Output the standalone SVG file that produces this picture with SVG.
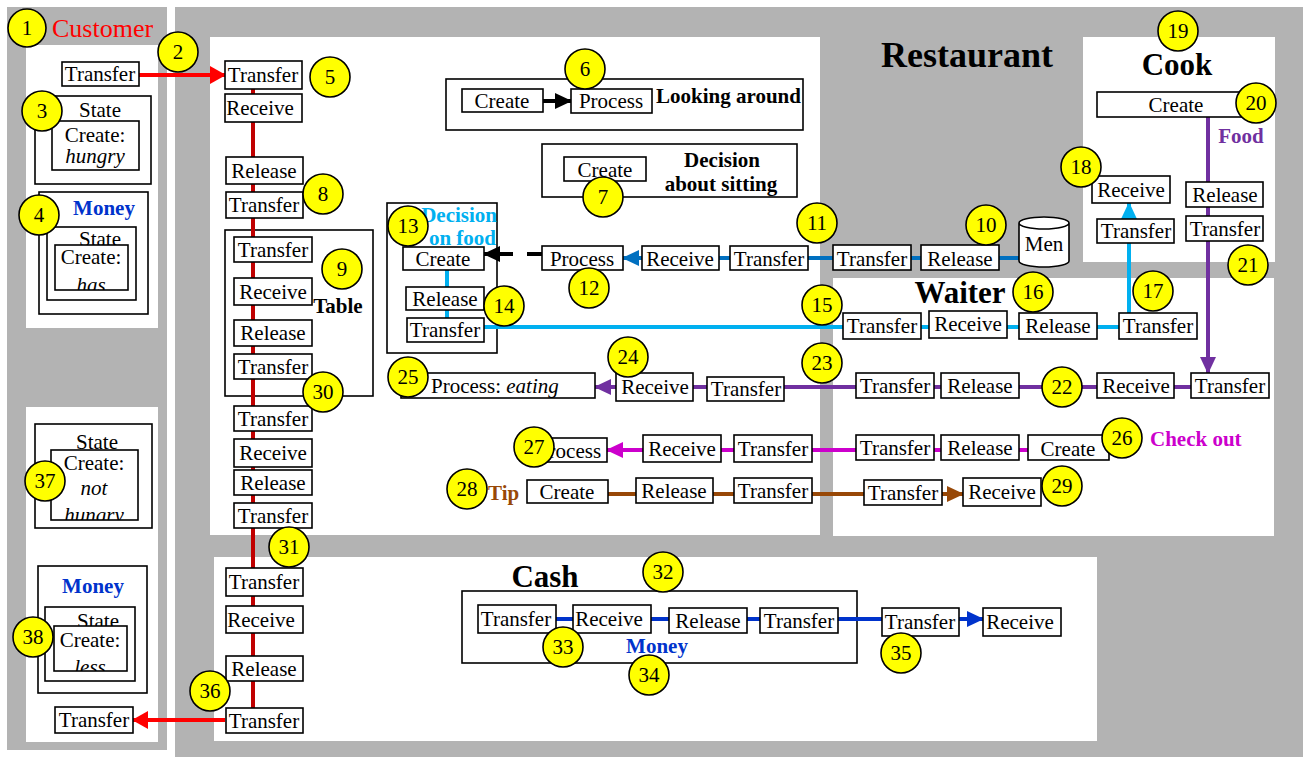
<svg xmlns="http://www.w3.org/2000/svg" width="1310" height="758" viewBox="0 0 1310 758">
<style>
.bg{fill:#b3b3b3}
.wp{fill:#fff}
.box{fill:#fff;stroke:#000;stroke-width:1.6}
.frame{fill:#fff;stroke:#000;stroke-width:1.6}
.t{font-family:"Liberation Serif","Times New Roman",serif;font-size:21px;fill:#000;text-anchor:middle}
.b{font-weight:bold}
.i{font-style:italic}
.num circle{fill:#ffff00;stroke:#000;stroke-width:1.6}
.ln{fill:none;stroke-width:4}
</style>
<defs>
<marker id="aRed" markerUnits="userSpaceOnUse" markerWidth="16" markerHeight="18" refX="15" refY="9" orient="auto"><path d="M0,0 L16,9 L0,18 z" fill="#ff0000"/></marker>
<marker id="aBlack" markerUnits="userSpaceOnUse" markerWidth="17" markerHeight="16" refX="16" refY="8" orient="auto"><path d="M0,0 L17,8 L0,16 z" fill="#000"/></marker>
<marker id="aBlue" markerUnits="userSpaceOnUse" markerWidth="17" markerHeight="16" refX="16" refY="8" orient="auto"><path d="M0,0 L17,8 L0,16 z" fill="#0070c0"/></marker>
<marker id="aCyan" markerUnits="userSpaceOnUse" markerWidth="17" markerHeight="16" refX="16" refY="8" orient="auto"><path d="M0,0 L17,8 L0,16 z" fill="#00b0f0"/></marker>
<marker id="aPurple" markerUnits="userSpaceOnUse" markerWidth="17" markerHeight="16" refX="16" refY="8" orient="auto"><path d="M0,0 L17,8 L0,16 z" fill="#7030a0"/></marker>
<marker id="aMag" markerUnits="userSpaceOnUse" markerWidth="17" markerHeight="16" refX="16" refY="8" orient="auto"><path d="M0,0 L17,8 L0,16 z" fill="#cc00cc"/></marker>
<marker id="aBrown" markerUnits="userSpaceOnUse" markerWidth="17" markerHeight="16" refX="16" refY="8" orient="auto"><path d="M0,0 L17,8 L0,16 z" fill="#984807"/></marker>
<marker id="aCash" markerUnits="userSpaceOnUse" markerWidth="17" markerHeight="16" refX="16" refY="8" orient="auto"><path d="M0,0 L17,8 L0,16 z" fill="#0033cc"/></marker>
<clipPath id="cHas"><rect x="55" y="245" width="73" height="45"/></clipPath>
<clipPath id="cHungry"><rect x="51" y="450" width="87" height="70"/></clipPath>
<clipPath id="cLess"><rect x="54" y="626" width="73" height="45"/></clipPath>
</defs>

<rect width="1310" height="758" fill="#fff"/>
<g id="panels">
<rect class="bg" x="7" y="7" width="160" height="743"/>
<rect class="bg" x="175" y="7" width="1128" height="750"/>
<rect class="wp" x="26" y="45" width="132" height="283"/>
<rect class="wp" x="26" y="407" width="132" height="335"/>
<rect class="wp" x="210" y="37" width="610" height="498"/>
<rect class="wp" x="1083" y="37" width="192" height="225"/>
<rect class="wp" x="833" y="278" width="441" height="258"/>
<rect class="wp" x="214" y="557" width="883" height="184"/>
<text class="t" x="52" y="37" font-size="26" fill="#ff0000" style="text-anchor:start;font-size:26px;fill:#ff0000">Customer</text>
<text class="t b" x="967" y="67" style="font-size:36px">Restaurant</text>
<text class="t b" x="1177" y="75" style="font-size:31px">Cook</text>
<text class="t b" x="960" y="303" style="font-size:31px">Waiter</text>
<text class="t b" x="545" y="587" style="font-size:31px">Cash</text>
</g>

<g id="frames">
<rect class="frame" x="225" y="230" width="148" height="166"/>
<text class="t b" x="338" y="313">Table</text>
<rect class="frame" x="446" y="79" width="357" height="51"/>
<text class="t b" x="656" y="103" style="text-anchor:start">Looking around</text>
<rect class="frame" x="542" y="144" width="255" height="53"/>
<text class="t b" x="722" y="167">Decision</text>
<text class="t b" x="721" y="191">about sitting</text>
<rect class="frame" x="387" y="203" width="110" height="150"/>
<text class="t b" x="497" y="222" style="text-anchor:end;fill:#00b0f0">Decision</text>
<text class="t b" x="496" y="245" style="text-anchor:end;fill:#00b0f0">on food</text>
<rect class="frame" x="462" y="591" width="395" height="72"/>
<text class="t b" x="657" y="653" style="fill:#0033cc">Money</text>
<text class="t b" x="1241" y="143" style="fill:#7030a0">Food</text>
<text class="t b" x="1150" y="446" style="text-anchor:start;fill:#cc00cc">Check out</text>
<text class="t b" x="488" y="500" style="text-anchor:start;fill:#984807">Tip</text>
</g>

<g id="connectors">
<line class="ln" x1="253" y1="89" x2="253" y2="708" stroke="#c00000"/>
<line class="ln" x1="139" y1="75" x2="225" y2="75" stroke="#ff0000" marker-end="url(#aRed)"/>
<line class="ln" x1="225" y1="720" x2="133" y2="720" stroke="#ff0000" marker-end="url(#aRed)"/>
<line class="ln" x1="543" y1="101" x2="571" y2="101" stroke="#000" marker-end="url(#aBlack)"/>
<line class="ln" x1="542" y1="254" x2="484" y2="254" stroke="#000" stroke-dasharray="15 14 40" marker-end="url(#aBlack)"/>
<line class="ln" x1="1019" y1="258" x2="623" y2="258" stroke="#0070c0" marker-end="url(#aBlue)"/>
<line class="ln" x1="1119" y1="327" x2="484" y2="327" stroke="#00b0f0"/>
<line class="ln" x1="447" y1="270" x2="447" y2="318" stroke="#00b0f0"/>
<line class="ln" x1="1129" y1="313" x2="1129" y2="203" stroke="#00b0f0" marker-end="url(#aCyan)"/>
<line class="ln" x1="1208" y1="112" x2="1208" y2="373" stroke="#7030a0" marker-end="url(#aPurple)"/>
<line class="ln" x1="1191" y1="387" x2="595" y2="387" stroke="#7030a0" marker-end="url(#aPurple)"/>
<line class="ln" x1="1028" y1="450" x2="607" y2="450" stroke="#cc00cc" marker-end="url(#aMag)"/>
<line class="ln" x1="608" y1="494" x2="963" y2="494" stroke="#984807" marker-end="url(#aBrown)"/>
<line class="ln" x1="556" y1="619" x2="983" y2="619" stroke="#0033cc" marker-end="url(#aCash)"/>
</g>

<g id="customer">
<g id="c-transfer-out"><rect class="box" x="62" y="62" width="77" height="24"/><text class="t" x="100" y="81">Transfer</text></g>
<g id="c-state-hungry"><rect class="box" x="35" y="96" width="116" height="88"/><text class="t" x="100" y="117">State</text>
<rect class="box" x="52" y="121" width="87" height="49"/><text class="t" x="95" y="142">Create:</text><text class="t i" x="95" y="163">hungry</text></g>
<g id="c-money-has"><rect class="box" x="39" y="192" width="109" height="122"/><text class="t b" x="104" y="215" style="fill:#0033cc">Money</text>
<rect class="box" x="47" y="227" width="89" height="73"/><text class="t" x="100" y="246">State</text>
<rect class="box" x="55" y="245" width="73" height="45"/><text class="t" x="91" y="264">Create:</text><text class="t i" x="91" y="292" clip-path="url(#cHas)">has</text></g>
<g id="c-state-not-hungry"><rect class="box" x="35" y="424" width="117" height="104"/><text class="t" x="97" y="449">State</text>
<rect class="box" x="51" y="450" width="87" height="70"/><text class="t" x="94" y="470">Create:</text><text class="t i" x="94" y="495">not</text><text class="t i" x="94" y="522" clip-path="url(#cHungry)">hungry</text></g>
<g id="c-money-less"><rect class="box" x="38" y="566" width="109" height="127"/><text class="t b" x="93" y="593" style="fill:#0033cc">Money</text>
<rect class="box" x="45" y="607" width="90" height="74"/><text class="t" x="98" y="628">State</text>
<rect class="box" x="54" y="626" width="73" height="45"/><text class="t" x="90" y="647">Create:</text><text class="t i" x="90" y="674" clip-path="url(#cLess)">less</text></g>
<g id="c-transfer-in"><rect class="box" x="55" y="707" width="78" height="26"/><text class="t" x="94" y="727">Transfer</text></g>
</g>

<g id="restaurant-column">
<g id="r1"><rect class="box" x="225" y="61" width="77" height="28"/><text class="t" x="263" y="82">Transfer</text></g>
<g id="r2"><rect class="box" x="225" y="94" width="77" height="28"/><text class="t" x="260" y="115">Receive</text></g>
<g id="r3"><rect class="box" x="226" y="157" width="77" height="27"/><text class="t" x="264" y="178">Release</text></g>
<g id="r4"><rect class="box" x="226" y="192" width="77" height="26"/><text class="t" x="264" y="212">Transfer</text></g>
<g id="r5"><rect class="box" x="234" y="237" width="78" height="25"/><text class="t" x="273" y="257">Transfer</text></g>
<g id="r6"><rect class="box" x="234" y="278" width="78" height="27"/><text class="t" x="273" y="299">Receive</text></g>
<g id="r7"><rect class="box" x="234" y="320" width="78" height="26"/><text class="t" x="273" y="340">Release</text></g>
<g id="r8"><rect class="box" x="234" y="354" width="78" height="25"/><text class="t" x="273" y="374">Transfer</text></g>
<g id="r9"><rect class="box" x="234" y="406" width="78" height="25"/><text class="t" x="273" y="426">Transfer</text></g>
<g id="r10"><rect class="box" x="234" y="439" width="78" height="28"/><text class="t" x="273" y="460">Receive</text></g>
<g id="r11"><rect class="box" x="234" y="470" width="78" height="25"/><text class="t" x="273" y="490">Release</text></g>
<g id="r12"><rect class="box" x="234" y="503" width="78" height="25"/><text class="t" x="273" y="523">Transfer</text></g>
<g id="r13"><rect class="box" x="226" y="568" width="77" height="28"/><text class="t" x="264" y="589">Transfer</text></g>
<g id="r14"><rect class="box" x="226" y="606" width="77" height="27"/><text class="t" x="261" y="627">Receive</text></g>
<g id="r15"><rect class="box" x="226" y="656" width="77" height="25"/><text class="t" x="264" y="676">Release</text></g>
<g id="r16"><rect class="box" x="226" y="708" width="77" height="25"/><text class="t" x="264" y="728">Transfer</text></g>
</g>

<g id="restaurant-nodes">
<g id="look-create"><rect class="box" x="462" y="89" width="81" height="23"/><text class="t" x="502" y="108">Create</text></g>
<g id="look-process"><rect class="box" x="571" y="89" width="81" height="24"/><text class="t" x="611" y="108">Process</text></g>
<g id="sit-create"><rect class="box" x="564" y="157" width="82" height="24"/><text class="t" x="605" y="177">Create</text></g>
<g id="food-create"><rect class="box" x="403" y="247" width="81" height="23"/><text class="t" x="443" y="266">Create</text></g>
<g id="food-release"><rect class="box" x="406" y="287" width="78" height="23"/><text class="t" x="445" y="306">Release</text></g>
<g id="food-transfer"><rect class="box" x="407" y="318" width="77" height="24"/><text class="t" x="445" y="337">Transfer</text></g>
<g id="men-process"><rect class="box" x="542" y="246" width="81" height="24"/><text class="t" x="582" y="266">Process</text></g>
<g id="men-receive"><rect class="box" x="642" y="246" width="77" height="24"/><text class="t" x="680" y="266">Receive</text></g>
<g id="men-transfer1"><rect class="box" x="730" y="246" width="78" height="24"/><text class="t" x="769" y="266">Transfer</text></g>
<g id="men-transfer2"><rect class="box" x="833" y="245" width="78" height="25"/><text class="t" x="872" y="266">Transfer</text></g>
<g id="men-release"><rect class="box" x="921" y="245" width="78" height="25"/><text class="t" x="960" y="266">Release</text></g>
<g id="men"><path class="box" d="M1019,223 L1019,261 A25,6 0 0 0 1069,261 L1069,223 A25,6 0 0 0 1019,223 A25,6 0 0 0 1069,223"/><text class="t" x="1044" y="251">Men</text></g>
<g id="eating"><rect class="box" x="401" y="373" width="194" height="25"/><text class="t" x="431" y="393" style="text-anchor:start">Process: <tspan class="i">eating</tspan></text></g>
<g id="eat-receive"><rect class="box" x="616" y="373" width="77" height="28"/><text class="t" x="655" y="394">Receive</text></g>
<g id="eat-transfer"><rect class="box" x="707" y="377" width="77" height="24"/><text class="t" x="746" y="396">Transfer</text></g>
<g id="co-process"><rect class="box" x="537" y="438" width="70" height="24"/><text class="t" x="569" y="458">Process</text></g>
<g id="co-receive"><rect class="box" x="643" y="435" width="78" height="27"/><text class="t" x="682" y="456">Receive</text></g>
<g id="co-transfer"><rect class="box" x="734" y="435" width="78" height="27"/><text class="t" x="773" y="456">Transfer</text></g>
<g id="tip-create"><rect class="box" x="527" y="480" width="81" height="23"/><text class="t" x="567" y="499">Create</text></g>
<g id="tip-release"><rect class="box" x="636" y="478" width="77" height="25"/><text class="t" x="674" y="498">Release</text></g>
<g id="tip-transfer"><rect class="box" x="734" y="478" width="78" height="25"/><text class="t" x="773" y="498">Transfer</text></g>
</g>

<g id="cook">
<g id="cook-create"><rect class="box" x="1097" y="92" width="150" height="25"/><text class="t" x="1176" y="112">Create</text></g>
<g id="cook-receive"><rect class="box" x="1092" y="176" width="78" height="27"/><text class="t" x="1131" y="197">Receive</text></g>
<g id="cook-transfer-in"><rect class="box" x="1097" y="219" width="77" height="24"/><text class="t" x="1136" y="238">Transfer</text></g>
<g id="cook-release"><rect class="box" x="1186" y="182" width="77" height="25"/><text class="t" x="1225" y="202">Release</text></g>
<g id="cook-transfer-out"><rect class="box" x="1186" y="216" width="77" height="25"/><text class="t" x="1225" y="236">Transfer</text></g>
</g>

<g id="waiter">
<g id="w1"><rect class="box" x="843" y="313" width="78" height="26"/><text class="t" x="882" y="333">Transfer</text></g>
<g id="w2"><rect class="box" x="929" y="311" width="78" height="27"/><text class="t" x="968" y="331">Receive</text></g>
<g id="w3"><rect class="box" x="1019" y="313" width="78" height="26"/><text class="t" x="1058" y="333">Release</text></g>
<g id="w4"><rect class="box" x="1119" y="313" width="78" height="26"/><text class="t" x="1158" y="333">Transfer</text></g>
<g id="w5"><rect class="box" x="856" y="373" width="78" height="25"/><text class="t" x="895" y="393">Transfer</text></g>
<g id="w6"><rect class="box" x="941" y="373" width="78" height="25"/><text class="t" x="980" y="393">Release</text></g>
<g id="w7"><rect class="box" x="1097" y="373" width="77" height="25"/><text class="t" x="1136" y="393">Receive</text></g>
<g id="w8"><rect class="box" x="1191" y="373" width="78" height="25"/><text class="t" x="1230" y="393">Transfer</text></g>
<g id="w9"><rect class="box" x="856" y="435" width="78" height="25"/><text class="t" x="895" y="455">Transfer</text></g>
<g id="w10"><rect class="box" x="941" y="435" width="78" height="25"/><text class="t" x="980" y="455">Release</text></g>
<g id="w11"><rect class="box" x="1028" y="435" width="81" height="25"/><text class="t" x="1068" y="456">Create</text></g>
<g id="w12"><rect class="box" x="864" y="480" width="78" height="25"/><text class="t" x="903" y="500">Transfer</text></g>
<g id="w13"><rect class="box" x="963" y="478" width="78" height="28"/><text class="t" x="1002" y="499">Receive</text></g>
</g>

<g id="cash">
<g id="k1"><rect class="box" x="478" y="605" width="78" height="28"/><text class="t" x="516" y="626">Transfer</text></g>
<g id="k2"><rect class="box" x="573" y="605" width="78" height="28"/><text class="t" x="609" y="626">Receive</text></g>
<g id="k3"><rect class="box" x="669" y="608" width="78" height="25"/><text class="t" x="708" y="628">Release</text></g>
<g id="k4"><rect class="box" x="760" y="608" width="78" height="25"/><text class="t" x="799" y="628">Transfer</text></g>
<g id="k5"><rect class="box" x="882" y="608" width="77" height="28"/><text class="t" x="920" y="629">Transfer</text></g>
<g id="k6"><rect class="box" x="983" y="608" width="78" height="28"/><text class="t" x="1020" y="629">Receive</text></g>
</g>

<g id="numbers" class="num">
<g id="b1"><circle cx="27" cy="28" r="19"/><text class="t" x="27" y="35">1</text></g>
<g id="b2"><circle cx="178" cy="52" r="20"/><text class="t" x="178" y="59">2</text></g>
<g id="b3"><circle cx="42" cy="111" r="20"/><text class="t" x="42" y="118">3</text></g>
<g id="b4"><circle cx="39" cy="215" r="20"/><text class="t" x="39" y="222">4</text></g>
<g id="b5"><circle cx="330" cy="77" r="20"/><text class="t" x="330" y="84">5</text></g>
<g id="b6"><circle cx="585" cy="69" r="20"/><text class="t" x="585" y="76">6</text></g>
<g id="b7"><circle cx="603" cy="197" r="20"/><text class="t" x="603" y="204">7</text></g>
<g id="b8"><circle cx="323" cy="194" r="20"/><text class="t" x="323" y="201">8</text></g>
<g id="b9"><circle cx="342" cy="269" r="20"/><text class="t" x="342" y="276">9</text></g>
<g id="b10"><circle cx="986" cy="225" r="20"/><text class="t" x="986" y="232">10</text></g>
<g id="b11"><circle cx="817" cy="223" r="20"/><text class="t" x="817" y="230">11</text></g>
<g id="b12"><circle cx="589" cy="288" r="20"/><text class="t" x="589" y="295">12</text></g>
<g id="b13"><circle cx="408" cy="226" r="20"/><text class="t" x="408" y="233">13</text></g>
<g id="b14"><circle cx="504" cy="306" r="20"/><text class="t" x="504" y="313">14</text></g>
<g id="b15"><circle cx="822" cy="305" r="20"/><text class="t" x="822" y="312">15</text></g>
<g id="b16"><circle cx="1033" cy="292" r="20"/><text class="t" x="1033" y="299">16</text></g>
<g id="b17"><circle cx="1153" cy="291" r="20"/><text class="t" x="1153" y="298">17</text></g>
<g id="b18"><circle cx="1081" cy="167" r="20"/><text class="t" x="1081" y="174">18</text></g>
<g id="b19"><circle cx="1178" cy="31" r="20"/><text class="t" x="1178" y="38">19</text></g>
<g id="b20"><circle cx="1256" cy="103" r="20"/><text class="t" x="1256" y="110">20</text></g>
<g id="b21"><circle cx="1248" cy="265" r="20"/><text class="t" x="1248" y="272">21</text></g>
<g id="b22"><circle cx="1062" cy="387" r="20"/><text class="t" x="1062" y="394">22</text></g>
<g id="b23"><circle cx="822" cy="363" r="20"/><text class="t" x="822" y="370">23</text></g>
<g id="b24"><circle cx="628" cy="357" r="20"/><text class="t" x="628" y="364">24</text></g>
<g id="b25"><circle cx="408" cy="377" r="20"/><text class="t" x="408" y="384">25</text></g>
<g id="b26"><circle cx="1122" cy="438" r="20"/><text class="t" x="1122" y="445">26</text></g>
<g id="b27"><circle cx="534" cy="447" r="20"/><text class="t" x="534" y="454">27</text></g>
<g id="b28"><circle cx="467" cy="489" r="20"/><text class="t" x="467" y="496">28</text></g>
<g id="b29"><circle cx="1062" cy="486" r="20"/><text class="t" x="1062" y="493">29</text></g>
<g id="b30"><circle cx="323" cy="392" r="20"/><text class="t" x="323" y="399">30</text></g>
<g id="b31"><circle cx="289" cy="547" r="20"/><text class="t" x="289" y="554">31</text></g>
<g id="b32"><circle cx="663" cy="572" r="20"/><text class="t" x="663" y="579">32</text></g>
<g id="b33"><circle cx="563" cy="647" r="20"/><text class="t" x="563" y="654">33</text></g>
<g id="b34"><circle cx="649" cy="675" r="20"/><text class="t" x="649" y="682">34</text></g>
<g id="b35"><circle cx="901" cy="653" r="20"/><text class="t" x="901" y="660">35</text></g>
<g id="b36"><circle cx="210" cy="691" r="20"/><text class="t" x="210" y="698">36</text></g>
<g id="b37"><circle cx="45" cy="481" r="20"/><text class="t" x="45" y="488">37</text></g>
<g id="b38"><circle cx="33" cy="637" r="20"/><text class="t" x="33" y="644">38</text></g>
</g>
</svg>
